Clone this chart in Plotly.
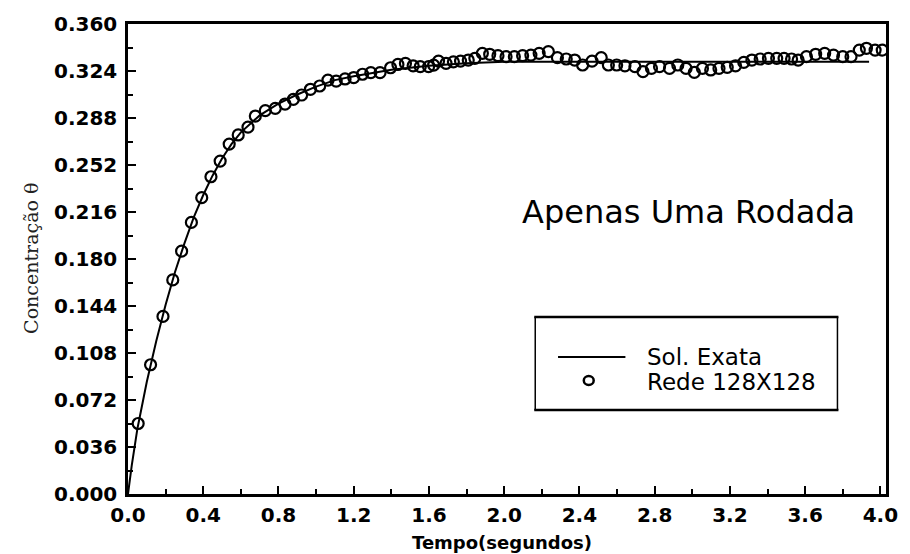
import plotly.graph_objects as go

# ---- data ----
t_rede = [0.054, 0.120, 0.186, 0.238, 0.285, 0.337, 0.392, 0.441, 0.490, 0.538,
          0.586, 0.638, 0.677, 0.730, 0.783, 0.835, 0.879, 0.923, 0.970, 1.019,
          1.063, 1.107, 1.154, 1.200, 1.247, 1.291, 1.340, 1.396, 1.435, 1.475,
          1.516, 1.554, 1.598, 1.625, 1.651, 1.691, 1.730, 1.768, 1.809, 1.844,
          1.884, 1.923, 1.967, 2.010, 2.054, 2.098, 2.142, 2.186, 2.235, 2.283,
          2.330, 2.375, 2.417, 2.467, 2.516, 2.554, 2.598, 2.642, 2.695, 2.738,
          2.783, 2.826, 2.879, 2.923, 2.967, 3.011, 3.054, 3.098, 3.142, 3.186,
          3.230, 3.274, 3.317, 3.361, 3.405, 3.449, 3.488, 3.528, 3.563, 3.607,
          3.656, 3.704, 3.751, 3.800, 3.844, 3.888, 3.926, 3.972, 4.010]
c_rede = [0.054, 0.099, 0.136, 0.164, 0.186, 0.208, 0.227, 0.243, 0.255, 0.268,
          0.275, 0.281, 0.2895, 0.2936, 0.2954, 0.2987, 0.3023, 0.3056, 0.310, 0.3125,
          0.317, 0.3163, 0.3179, 0.319, 0.3215, 0.3227, 0.3227, 0.3265, 0.329, 0.3298,
          0.328, 0.3273, 0.3273, 0.3285, 0.3316, 0.3298, 0.331, 0.3316, 0.3324, 0.3337,
          0.3375, 0.3368, 0.3357, 0.335, 0.335, 0.3357, 0.3362, 0.3375, 0.3388, 0.3342,
          0.3332, 0.3324, 0.3286, 0.3316, 0.3342, 0.3286, 0.3286, 0.328, 0.3273, 0.3235,
          0.326, 0.3273, 0.326, 0.3286, 0.326, 0.323, 0.326, 0.3248, 0.326, 0.3268,
          0.328, 0.3306, 0.3324, 0.3332, 0.3337, 0.3337, 0.3337, 0.3332, 0.3324, 0.335,
          0.3368, 0.3375, 0.3362, 0.335, 0.335, 0.340, 0.3414, 0.340, 0.340]

t_exata = [0.0, 0.02, 0.05, 0.10, 0.15, 0.20, 0.25, 0.30, 0.35, 0.40, 0.45, 0.50,
           0.55, 0.60, 0.70, 0.80, 0.90, 1.00, 1.10, 1.20, 1.40, 1.60, 1.80, 2.00,
           2.40, 2.80, 3.20, 3.60, 3.94]
c_exata = [0.0, 0.022, 0.050, 0.086, 0.117, 0.145, 0.170, 0.192, 0.212, 0.229, 0.244, 0.257,
           0.268, 0.277, 0.290, 0.299, 0.306, 0.312, 0.317, 0.320, 0.325, 0.328, 0.330, 0.331,
           0.331, 0.331, 0.331, 0.331, 0.331]

y_ticks = [0.000, 0.036, 0.072, 0.108, 0.144, 0.180, 0.216, 0.252, 0.288, 0.324, 0.360]
x_ticks = [0.0, 0.4, 0.8, 1.2, 1.6, 2.0, 2.4, 2.8, 3.2, 3.6, 4.0]

# ---- figure ----
W, H = 910, 554
ML, MR, MT, MB = 128, 17, 24, 60
PW, PH = W - ML - MR, H - MT - MB

def px(x):
    return (x - ML) / PW

def py(y):
    return (H - MB - y) / PH

fig = go.Figure()
fig.add_trace(go.Scatter(x=t_exata, y=c_exata, mode="lines", name="Sol. Exata",
                         line=dict(color="black", width=2), showlegend=False))
fig.add_trace(go.Scatter(x=t_rede, y=c_rede, mode="markers", name="Rede 128X128",
                         marker=dict(symbol="circle-open", size=11, color="black",
                                     line=dict(width=2.2, color="black")),
                         cliponaxis=True, showlegend=False))

tickfont = dict(family="DejaVu Sans", size=20, color="black", weight="bold")

fig.update_xaxes(range=[0, 4.03], tickvals=x_ticks, ticktext=[f"{v:.1f}" for v in x_ticks],
                 ticks="inside", ticklen=8, tickwidth=2, tickcolor="black",
                 minor=dict(dtick=0.2, tick0=0, ticks="inside", ticklen=5, tickwidth=1.5, tickcolor="black"),
                 showline=True, linecolor="black", linewidth=2.5, mirror=True,
                 showgrid=False, zeroline=False, tickfont=tickfont, ticklabelstandoff=1)
fig.update_yaxes(range=[0, 0.36], tickvals=y_ticks, ticktext=[f"{v:.3f}" for v in y_ticks],
                 ticks="inside", ticklen=8, tickwidth=2, tickcolor="black",
                 minor=dict(dtick=0.018, tick0=0, ticks="inside", ticklen=5, tickwidth=1.5, tickcolor="black"),
                 showline=True, linecolor="black", linewidth=2.5, mirror=True,
                 showgrid=False, zeroline=False, tickfont=tickfont, ticklabelstandoff=4)

def ann(text, x, y, font, xanchor="center", angle=0):
    return dict(text=text, xref="paper", yref="paper", x=px(x), y=py(y),
                xanchor=xanchor, yanchor="middle", textangle=angle,
                showarrow=False, font=font)

annotations = [
    ann("Tempo(segundos)", 505, 542,
        dict(family="DejaVu Sans", size=18, color="black", weight="bold")),
    ann("Concentração θ", 30, 258,
        dict(family="DejaVu Serif", size=19, color="#222"), angle=-90),
    ann("Apenas Uma Rodada", 524, 212,
        dict(family="DejaVu Sans", size=32, color="black"), xanchor="left"),
    ann("Sol. Exata", 650, 357,
        dict(family="DejaVu Sans", size=23, color="black"), xanchor="left"),
    ann("Rede 128X128", 650, 382,
        dict(family="DejaVu Sans", size=23, color="black"), xanchor="left"),
]

shapes = [
    # legend box
    dict(type="line", xref="paper", yref="paper", x0=px(538), x1=px(845), y0=py(317), y1=py(317),
         line=dict(color="black", width=2.5)),
    dict(type="line", xref="paper", yref="paper", x0=px(538), x1=px(845), y0=py(410), y1=py(410),
         line=dict(color="black", width=2.5)),
    dict(type="line", xref="paper", yref="paper", x0=px(539), x1=px(539), y0=py(317), y1=py(410),
         line=dict(color="black", width=1.5)),
    dict(type="line", xref="paper", yref="paper", x0=px(844), x1=px(844), y0=py(317), y1=py(410),
         line=dict(color="black", width=1.5)),
    # legend samples
    dict(type="line", xref="paper", yref="paper", x0=px(562), x1=px(630), y0=py(357), y1=py(357),
         line=dict(color="black", width=2)),
    dict(type="circle", xref="paper", yref="paper", x0=px(588), x1=px(598), y0=py(376), y1=py(385),
         line=dict(color="black", width=2.5)),
]

fig.update_layout(width=W, height=H, margin=dict(l=ML, r=MR, t=MT, b=MB),
                  paper_bgcolor="white", plot_bgcolor="white",
                  annotations=annotations, shapes=shapes, showlegend=False)

fig.write_html("out.html")
